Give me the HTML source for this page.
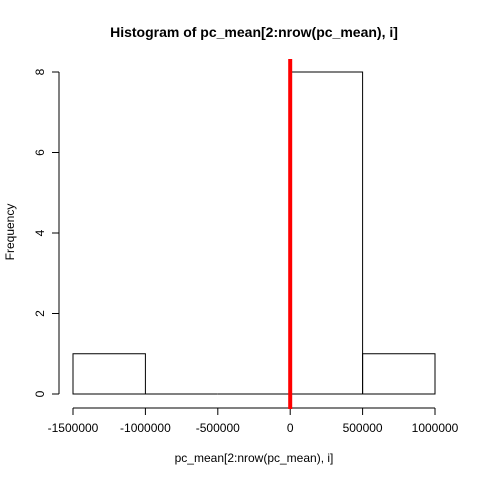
<!DOCTYPE html>
<html><head><meta charset="utf-8"><style>
body{margin:0;background:#fff}
svg{display:block;font-family:"Liberation Sans",sans-serif}
</style></head><body>
<svg id="c" width="480" height="480">
<text x="254" y="37" text-anchor="middle" font-weight="bold" font-size="14">Histogram of pc_mean[2:nrow(pc_mean), i]</text>
<text x="254" y="462" text-anchor="middle" font-size="12">pc_mean[2:nrow(pc_mean), i]</text>
<text transform="translate(14,232) rotate(-90)" text-anchor="middle" font-size="12">Frequency</text>
<g id="bars"></g><g id="xax"></g><g id="yax"></g><g id="ref"></g>
</svg>
<script>
const breaks=[-1500000,-1000000,-500000,0,500000,1000000];
const counts=[1,0,0,8,1];
const xTicks=[-1500000,-1000000,-500000,0,500000,1000000];
const xTickLabels=["-1500000","-1000000","-500000","0","500000","1000000"];
const yTicks=[0,2,4,6,8];
const refValue=[0];
const NS="http://www.w3.org/2000/svg";
function X(v){return 73+(v+1500000)*(362/2500000);}
function Y(v){return 394-v*40.25;}
function mk(t,a,p){const e=document.createElementNS(NS,t);for(const k in a)e.setAttribute(k,a[k]);p.appendChild(e);return e;}
const bars=document.getElementById('bars');
counts.forEach((c,i)=>{
 const x0=X(breaks[i]),x1=X(breaks[i+1]);
 let r;
 if(c===0){
  r=mk('line',{x1:x0,x2:x1,y1:Y(0),y2:Y(0),stroke:'#000','stroke-width':1},bars);
 }else{
  r=mk('rect',{x:x0,y:Y(c),width:x1-x0,height:Y(0)-Y(c),fill:'none',stroke:'#000','stroke-width':1},bars);
 }
 
 
});
const xa=document.getElementById('xax');


mk('line',{x1:X(xTicks[0]),x2:X(xTicks[xTicks.length-1]),y1:408,y2:408,stroke:'#000'},xa);
xTicks.forEach((v,i)=>{
 mk('line',{x1:X(v),x2:X(v),y1:408,y2:415,stroke:'#000'},xa);
 const t=mk('text',{x:X(v),y:432,'text-anchor':'middle','font-size':12},xa);
 t.textContent=xTickLabels[i];
 
 
});
const ya=document.getElementById('yax');


mk('line',{x1:59,x2:59,y1:Y(yTicks[0]),y2:Y(yTicks[yTicks.length-1]),stroke:'#000'},ya);
yTicks.forEach(v=>{
 mk('line',{x1:52,x2:59,y1:Y(v),y2:Y(v),stroke:'#000'},ya);
 const t=mk('text',{transform:`translate(44,${Y(v)}) rotate(-90)`,'text-anchor':'middle','font-size':12},ya);
 t.textContent=String(v);
 
 
});
const rf=document.getElementById('ref');
refValue.forEach(v=>{
 const l=mk('line',{x1:X(v),x2:X(v),y1:59,y2:409,stroke:'#ff0000','stroke-width':4},rf);
 
 
});
</script>
</body></html>
